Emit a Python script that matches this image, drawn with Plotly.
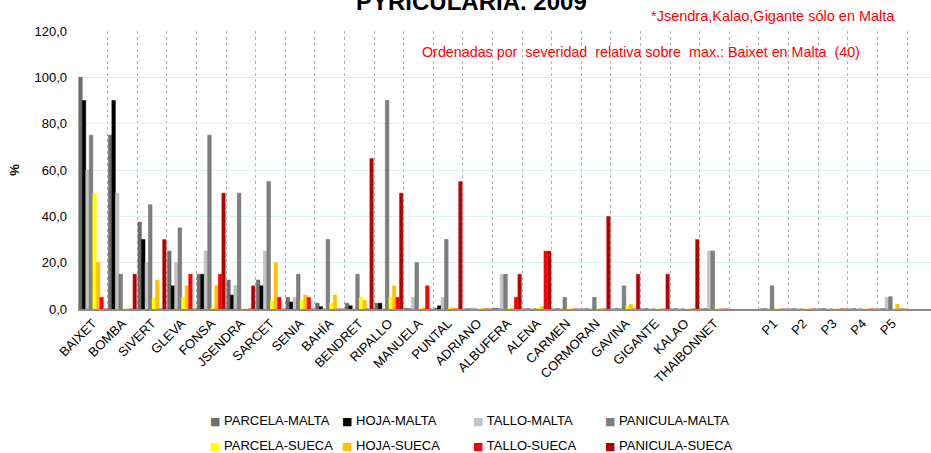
import plotly.graph_objects as go

categories = ["BAIXET", "BOMBA", "SIVERT", "GLEVA", "FONSA", "JSENDRA", "SARCET", "SENIA",
              "BAHÍA", "BENDRET", "RIPALLO", "MANUELA", "PUNTAL", "ADRIANO", "ALBUFERA",
              "ALENA", "CARMEN", "CORMORAN", "GAVINA", "GIGANTE", "KALAO", "THAIBONNET",
              " ", "P1", "P2", "P3", "P4", "P5"]

parcela_malta = [100, 75, 37.5, 25, 15, 12.5, 12.5, 5, 2.5, 2.5, 2.5, 0.3, 0.3, 0, 0.3,
                 0, 0, 0, 0, 0, 0, 0, None, 0, 0, 0, 0, 0]
hoja_malta = [90, 90, 30, 10, 15, 6, 10, 3, 1, 1.4, 2.5, 0, 1.4, 0, 0,
              0, 0, 0, 0, 0, 0, 0, None, 0, 0, 0, 0, 0]
tallo_malta = [60, 50, 20, 20, 25, 10, 25, 5, 0, 0, 0, 5, 5, 0.5, 15,
               0, 0, 0, 0.3, 0, 0, 25, None, 0, 0, 0, 0, 5]
panicula_malta = [75, 15, 45, 35, 75, 50, 55, 15, 30, 15, 90, 20, 30, 0, 15,
                  0, 5, 5, 10, 0, 0, 25, None, 10, 0, 0, 0, 5.3]
parcela_sueca = [50, 0, 5, 5, 0.5, 0, 3.7, 3.7, 2.6, 5, 5, 0, 0.3, 0, 0.3,
                 0.3, 0.3, 0, 1.2, 0, 0, 0, None, 0, 0, 0, 0, 0]
hoja_sueca = [20, 0, 12.5, 10, 10, 0, 20, 6, 6, 3.7, 10, 0.5, 0.5, 0.3, 0.3,
              1, 0, 0, 2, 0, 0, 0, None, 0, 0, 0, 0, 2]
tallo_sueca = [5, 0, 0, 15, 15, 0, 5, 5, 0, 0, 5, 10, 0, 0, 5,
               25, 0, 0, 0, 0, 0, 0, None, 0, 0, 0, 0, 0]
panicula_sueca = [0, 15, 30, 0, 50, 10, 0, 0, 0, 65, 50, 0, 55, 0, 15,
                  25, 0, 40, 15, 15, 30, 0, None, 0, 0, 0, 0, 0]

series = [
    ("PARCELA-MALTA", parcela_malta, "#6e6e6e", "#5a5a5a"),
    ("HOJA-MALTA", hoja_malta, "#000000", "#000000"),
    ("TALLO-MALTA", tallo_malta, "#c4c4c4", "#b0b0b0"),
    ("PANICULA-MALTA", panicula_malta, "#808080", "#5e5e5e"),
    ("PARCELA-SUECA", parcela_sueca, "#ffff00", "#ffff00"),
    ("HOJA-SUECA", hoja_sueca, "#ffc000", "#ffc000"),
    ("TALLO-SUECA", tallo_sueca, "#ff0000", "#ff0000"),
    ("PANICULA-SUECA", panicula_sueca, "#b00000", "#d02020"),
]

# pixel geometry of plot area
L, R, T, B = 78, 0, 31, 144
W, H = 931, 453
pw = W - L - R
ph = H - T - B

def px_x(x):
    return (x - L) / pw

def px_y(y):
    return (H - B - y) / ph

legend_cols = [208, 340, 471, 603]
legend_rows = [420, 445]

fig = go.Figure()
for k, (name, vals, col, lcol) in enumerate(series):
    fig.add_trace(go.Bar(
        name=name, x=categories, y=vals,
        marker=dict(color=col, line=dict(color=lcol, width=0.5)),
        showlegend=False,
    ))
    r, c = divmod(k, 4)
    fig.add_annotation(
        text=f"<span style='color:{col};font-family:DejaVu Sans;font-size:11px'>■</span> {name}",
        xref="paper", yref="paper", x=px_x(legend_cols[c]), y=px_y(legend_rows[r]),
        xanchor="left", yanchor="middle", showarrow=False,
        font=dict(family="Liberation Sans, Arial, sans-serif", size=13, color="#000"),
    )

fig.update_layout(
    width=W, height=H,
    margin=dict(l=L, r=R, t=T, b=B, pad=0),
    paper_bgcolor="white", plot_bgcolor="white",
    barmode="group", bargap=0.05, bargroupgap=0,
    separators=",.",
    font=dict(family="Liberation Sans, Arial, sans-serif", size=13, color="#000"),
    showlegend=False,
)

fig.update_xaxes(
    type="category", range=[-0.5, 28.31],
    tickson="boundaries", ticks="", showgrid=True, gridcolor="#b4b4b4",
    griddash="dot", gridwidth=1,
    showline=True, linecolor="#8c8c8c", linewidth=1.5,
    tickangle=-45, tickfont=dict(size=13),
)
fig.update_yaxes(
    range=[0, 120], dtick=20, tickformat=".1f",
    showgrid=True, gridcolor="#dff1f5", gridwidth=1,
    showline=False, zeroline=False, ticks="", ticklabelstandoff=10,
    tickfont=dict(size=13),
    title=dict(text="<b>%</b>", font=dict(size=13), standoff=11),
)

fig.add_annotation(
    text="<b>PYRICULARIA. 2009</b>", xref="paper", yref="paper",
    x=px_x(471), y=px_y(1), xanchor="center", yanchor="middle",
    showarrow=False, font=dict(family="Liberation Sans, Arial, sans-serif", size=24, color="#000"),
)
fig.add_annotation(
    text="*Jsendra,Kalao,Gigante sólo en Malta", xref="paper", yref="paper",
    x=px_x(897), y=px_y(16), xanchor="right", yanchor="middle",
    showarrow=False, font=dict(family="Liberation Sans, Arial, sans-serif", size=14.5, color="#ff0000"),
)
fig.add_annotation(
    text="Ordenadas por  severidad  relativa sobre  max.: Baixet en Malta  (40)", xref="paper", yref="paper",
    x=px_x(420), y=px_y(52), xanchor="left", yanchor="middle",
    showarrow=False, font=dict(family="Liberation Sans, Arial, sans-serif", size=14.3, color="#ff0000"),
)

fig.write_html("out.html", config={"displayModeBar": False},
               post_script="document.body.style.margin='0';document.body.style.overflow='hidden';")
